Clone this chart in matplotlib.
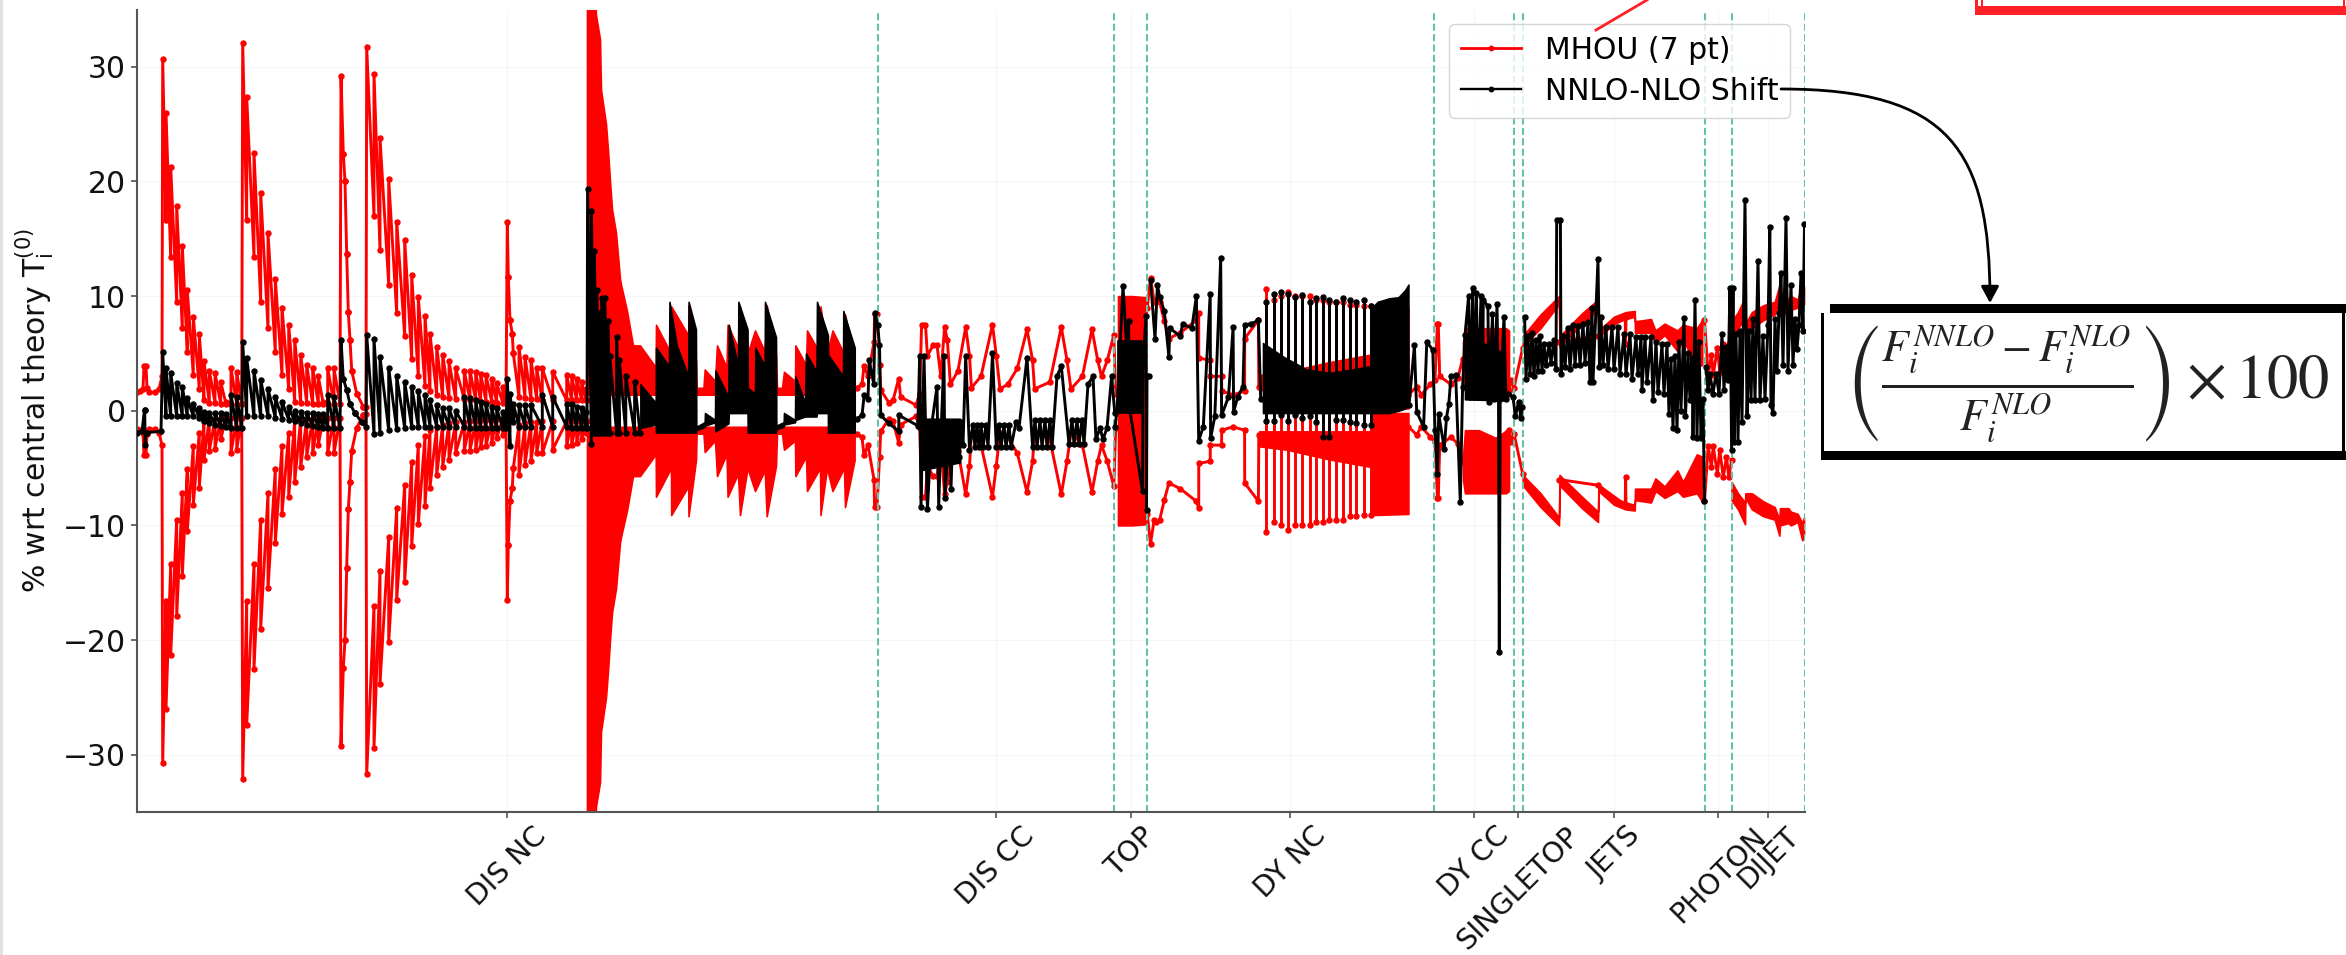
import numpy as np
import matplotlib
matplotlib.use("Agg")
import matplotlib.pyplot as plt
from matplotlib.lines import Line2D
from matplotlib.patches import Rectangle, FancyArrowPatch
from matplotlib.path import Path
from matplotlib.transforms import Affine2D

W, H = 2346, 955
RED, BLACK, TEAL = "#ff0000", "#000000", "#66c2a5"

# ---- group layout (position along the data-point axis) ----
group_edges = [0, 741, 977, 1010, 1297, 1377, 1386, 1568, 1595, 1668]
group_names = ["DIS NC", "DIS CC", "TOP", "DY NC", "DY CC", "SINGLETOP", "JETS", "PHOTON", "DIJET"]
y_ticks = [-30, -20, -10, 0, 10, 20, 30]

# ---- MHOU: symmetric +- sigma, sawtooth stretches (x has one more entry than top/end) ----
s_head_x = [0, 3, 6, 7, 9, 10, 12, 18, 22, 25]
s_head_v = [1.6, 1.7, 1.9, 3.9, 3.9, 2, 1.6, 1.6, 1.9, 3]

g1_x = [25.7, 29, 33.7, 39.7, 45.3, 50.3, 56.3, 62.3, 67, 72.3, 78, 83.7, 89, 94, 99.7, 104.7]
s1_top = [30.7, 26, 21.3, 17.9, 14.4, 10.5, 8.2, 6.7, 4.3, 3.5, 3.3, 2.5, .8, 3.7, 3.4]
s1_end = [16.6, 13.4, 9.5, 7.2, 5.1, 3.1, 1.9, .9, .7, .7, .6, .6, .6, .6, .6]

g2_x = [105.7, 109.7, 117, 123.7, 131, 138.3, 145, 151.7, 157.7, 163.7, 169.7, 175.7, 181.3, 186.3, 190.7, 197, 203]
s2_top = [32.1, 27.4, 22.5, 19, 15.5, 11.5, 9, 7.5, 6.2, 4.9, 4, 3.7, 3, .8, 3.7, 3.7]
s2_end = [16.6, 13.4, 9.5, 7.2, 5.1, 3.1, 1.9, .8, .7, .7, .6, .6, .6, .6, .6, .6]

s3_x = [204, 206.3, 208, 209.7, 211.3, 213, 214.7, 219.7, 226.3, 229]
s3_top = [29.2, 22.4, 20, 13.7, 8.6, 6.2, 3.5, 1.5, .35]
s3_end = [22.4, 20, 13.7, 8.6, 6.2, 3.5, 1.5, .35, .3]

g4_x = [229.7, 237, 243, 251.7, 259.7, 267.7, 274.7, 281.3, 288, 293, 299.7, 305.7, 312, 318.7, 327.3, 333, 338.7,
        343.7, 349, 354.7, 359.7, 365.7, 369]
s4_top = [31.7, 29.4, 23.8, 20.2, 16.5, 14.9, 11.8, 9.9, 8.3, 6.7, 5.6, 4.9, 4.3, 3.7, 3.5, 3.5, 3.4, 3.2, 3.1, 2.8, 2.4, 2.1]
s4_end = [17, 14, 11, 8.5, 6.5, 4.5, 3, 2.2, 1.7, 1.4, 1.2, 1.1, 1, 1, .9, .9, .8, .8, .8, .7, .7, .7]

s5_x = [370.3, 371.3, 373, 375.3, 376.3, 382, 388, 394, 399.7, 405.3, 415.7, 429.7, 434.7, 439.7, 444.7, 449, 450]
s5_top = [16.5, 11.7, 7.9, 6.7, 5, 5.6, 4.7, 4.4, 3.7, 3.7, 3.4, 3.1, 3, 2.8, 2.5, 1.9]
s5_end = [11.7, 7.9, 6.7, 5, 1.2, 1.1, 1, 1, .9, .9, .9, .9, .9, .9, .9, .9]

# ---- MHOU: plain polyline stretches ----
s_cc_x = [719.6, 725, 727, 731, 737, 737.6, 740, 742.6, 743.7, 752, 756, 761.7, 763.6, 779, 782.7, 784.6, 788.5, 790.4,
          796, 800, 803.8, 807.6, 810.3, 813.4, 821, 828.7, 832.5, 834.4, 844, 855.5, 859.3, 863, 870.7, 880.3, 890,
          895.6, 897.5, 912.8, 924.3, 930, 934, 945.4, 955, 960.7, 964.5, 970.3, 976.8, 978.7]
s_cc_v = [2, 2.3, 3.9, 3, 6, 8.4, 8.4, 4, 1.8, .7, .9, 2.8, 1.2, .5, 1.5, 7.5, 7.5, 4.8,
          5.7, 5.7, 3, 7.3, 6.2, 2.3, 3.5, 7.3, 4.8, 2, 3, 7.5, 4.8, 1.9, 2.3, 3.7, 7.1,
          4.4, 1.9, 2.5, 7.3, 4.4, 1.9, 3, 7.1, 4.4, 3, 4.4, 6.6, 1.5]

s_dy_x = [1010.3, 1013.5, 1017.2, 1019, 1022.7, 1027.3, 1031.9, 1043.3, 1059.4, 1061.7, 1061.8, 1073.2, 1073.3, 1084.6,
          1084.7, 1096.1, 1107.6, 1107.7, 1121.4, 1121.8]
s_dy_v = [9, 11.6, 9.5, 9.7, 9.5, 7.8, 6.3, 6.8, 7.9, 8.5, 4.6, 4.4, 3, 3, 1.7, 1.4, 1.7, 6.3, 7.9, 2.1]

s_dc_x = [1271.5, 1279.7, 1284.3, 1293.5, 1298, 1300.4, 1301.3, 1302.7, 1314, 1321, 1325.6, 1372, 1373.8, 1377, 1385.7]
s_dc_v = [1.4, 2.1, 1.4, 2.3, 2.7, 7.6, 7.6, 3, 2.3, 2.9, 4.5, 1.7, 2.7, 2, 5.5]

s_jet_x = [1422.2, 1461.2, 1488.2, 1488.6, 1489]
s_jet_v = [6, 6.5, 8.2, 5.8, 8.2]

s_ph_x = [1567.5, 1571.2, 1574.4, 1576.2, 1580.4, 1582.7, 1586.3, 1589.5, 1591.8, 1594.6]
s_ph_v = [7.9, 3.1, 4.9, 3.1, 5.5, 3.4, 5.8, 4, 5.8, 4.3]

# ---- MHOU: individual spikes in DY NC ----
s_sp_x = [1129, 1137.4, 1144.3, 1151.2, 1158, 1165, 1173, 1178.7, 1185.6, 1192.5, 1199.4, 1206.3, 1213.2, 1219, 1227, 1233.8]
s_sp_top = [10.6, 9.7, 10, 10.4, 10, 10, 10, 9.7, 9.7, 9.5, 9.5, 9.5, 9.2, 9.2, 9.1, 9.1]

# ---- MHOU: solid stretches (x, inner, outer) ----
hera_x = [450, 456, 459, 463, 464, 469, 471, 473, 475, 479, 483, 484, 490, 496, 503, 518.7, 519, 534, 534.2, 551.2, 551.5,
          559, 559.6, 566.5, 567.7, 578, 580, 589.5, 590.6, 601, 603, 610.5, 618, 627.7, 629.7, 639, 640, 645, 647, 658,
          658.4, 669, 670, 683, 683.5, 690, 695.5, 707, 708, 717.6]
hera_out = [40, 40, 34.5, 32.4, 28, 25, 22.7, 20, 17.6, 15.5, 11.5, 11, 8.7, 5.7, 5.7, 3.8, 7.5, 5, 9.1, 6.6, 9.2,
            4.3, 2, 2, 3.6, 2.6, 5.7, 3.8, 7.5, 5.5, 9.1, 5, 7, 5.2, 9.2, 4.8, 2, 2, 3.4, 2.6,
            5.7, 4, 7, 5, 9.1, 5, 7, 5, 8.4, 4.3]
top_x = [981, 995, 1009.5]
top_in = [0, 0, 0]
top_out = [10, 10, 9.9]
nc_x = [1122, 1150, 1190, 1233.8, 1234, 1271.4]
nc_in = [1.8, 1.8, 1.8, 1.8, .2, .2]
nc_out = [3.1, 3.4, 4.2, 4.9, 9.1, 9]
dc_x = [1326, 1328, 1342, 1362, 1369, 1372]
dc_in = [4, 1.7, 1.7, 2.5, 1.7, 1.7]
dc_out = [6, 7.2, 7.2, 7.2, 7.2, 7]
jets_x = [1385.7, 1403.6, 1422, 1422.5, 1445, 1461, 1461.5, 1477, 1488.5, 1497.7, 1498, 1514, 1518.4, 1527.6, 1540.4, 1546, 1559.8, 1565.2]
jets_in = [5.6, 7.2, 9.3, 5.6, 7.5, 8.8, 6.4, 7.6, 8, 8.2, 6.8, 6.8, 5.9, 6.6, 5.2, 6.2, 3.8, 4]
jets_out = [6.5, 8.4, 10, 6.5, 8.5, 9.7, 7, 8.2, 8.6, 8.7, 7.8, 8, 7, 7.6, 7, 7.5, 7.2, 7.9]
dj_x = [1594.6, 1601, 1608, 1608.4, 1614.8, 1626.3, 1637.7, 1642.3, 1643, 1651.5, 1653.8, 1660.7, 1665.2, 1667]
dj_in = [6.2, 7.2, 8, 7.2, 7.2, 7.9, 8.4, 9.5, 8.5, 8.5, 8.8, 9, 9.8, 9.3]
dj_out = [7.8, 8.6, 9.9, 7.6, 8.6, 9.2, 9.5, 10.9, 10, 9.8, 10, 9.7, 11.3, 10.8]

# ---- NNLO-NLO shift: sawtooth stretches ----
b_head_x = [0, 5, 7.5, 7.7, 8.2, 8.6, 10, 24]
b_head_v = [-1.9, -1.8, .1, .1, -3, -1.9, -1.9, -1.8]
b1_top = [5.1, 3.7, 3.3, 2.4, 2.1, 1.1, .6, .2, -.1, -.2, -.2, -.2, -.3, 1.4, 1.2]
b1_end = [-.5, -.5, -.5, -.5, -.5, -.5, -.6, -.9, -1.1, -1.2, -1.3, -1.4, -1.5, -1.5, -1.5]
b2_top = [6, 4.6, 3.5, 2.7, 1.9, 1.2, .8, .3, 0, -.1, -.2, -.2, -.3, -.3, 1.4, 1.2]
b2_end = [-.5, -.5, -.5, -.5, -.6, -.7, -.8, -.9, -1.1, -1.2, -1.3, -1.4, -1.5, -1.5, -1.5, -1.5]
b3_x = [204, 206.3, 209.7, 213, 218, 224.7, 229]
b3_top = [6.2, 2.8, 1.8, .6, -.2, -1]
b3_end = [2.8, 1.8, .6, -.2, -1, -1.4]
b4_top = [6.6, 6.3, 4.7, 3.7, 3, 2.5, 2.1, 1.7, 1.4, .9, .5, .2, .2, 0, 1.2, 1.1, .9, .8, .6, .3, .2, -.1]
b4_end = [-2, -1.9, -1.7, -1.6, -1.5, -1.4, -1.4, -1.4, -1.4, -1.4, -1.4, -1.4, -1.4, -1.4, -1.5, -1.5, -1.5, -1.5, -1.5, -1.5, -1.5, -1.5]
b5_x = [370.3, 373, 376.3, 382, 388, 394, 405.3, 415.7, 429.7, 434.7, 439.7, 444.7, 449, 450]
b5_top = [2.8, 1.5, .6, .5, .5, .5, 1.4, 1.2, .6, .6, .3, .2, -.1]
b5_end = [-3.1, -1, -1.4, -1.4, -1.4, -1.4, -1.4, -1.4, -1.5, -1.5, -1.5, -1.5, -1.5]
b6_x = [450.6, 454.4, 457.4, 459.7, 462.4, 465, 467.8, 470.8, 472.8, 479.6, 482.3, 488.8, 497.6, 503]
b6_top = [19.3, 17.4, 13.9, 10.5, 8.5, 9.8, 9.8, 7.8, 4.8, 6.4, 4.4, 3, 2.5]
b6_end = [-2.9, -1.9, -1.9, -1.9, -1.9, -1.9, -1.9, -1.9, -1.9, -1.9, -1.9, -1.9, -1.9]

# ---- NNLO-NLO shift: polyline stretches ----
b_cc_x = [719.6, 725, 727.2, 731, 732.2, 736.8, 738, 740.6, 742.5, 743.7, 752, 761.7, 761.9, 780.8,
          782.7, 784, 787, 789, 790.4, 795, 800, 801.7, 804, 807, 808, 812, 814, 816, 818, 820, 822, 824, 826,
          828.7, 832.5, 836, 838, 840, 842, 844, 846, 849, 851, 855.5, 859.3, 862, 864, 867, 869, 872, 874, 879, 882,
          890, 895.6, 898, 900, 903, 905, 908, 910, 913, 915, 920, 924.3, 932, 935, 937, 940, 942, 945, 947,
          951, 956, 959, 963, 966, 970, 974.6, 977.8]
b_cc_v = [-.7, -.4, 1.4, 1, 4.4, 2.3, 8.5, 7.5, 5.7, -.4, -1.1, -1.8, -.4, -1.3,
          4.8, -8.4, 4.8, -3, -8.6, -1, 2.1, -8.4, -2, 4.8, -7.6, -1, -6.8, -1, -4, -1.5, -4, -1, -3,
          4.8, -3.4, -1.2, -3.2, -1.2, -3.2, -1.2, -3.2, -1.2, -3.2, 5, -3.2, -1.2, -3.2, -1.2, -3.2, -1.2, -3.2, -1, -1.5,
          4.6, -3.2, -.8, -3.2, -.8, -3.2, -.8, -3.2, -.8, -3.2, 3, 3.9, -2.9, -.8, -2.9, -.8, -2.9, -.8, -2.9,
          2.3, 3, -2.5, -1.5, -2.5, -1.5, 3, -.2]

b_top_x = [978, 980, 986, 990, 991.5, 993, 1005.5, 1006, 1009, 1009.5, 1010, 1012]
b_top_v = [-1.4, 0, 10.9, 5, 7.8, 0, -7, 4, 8.3, -8.7, 3, 3]

b_dy_x = [1013.5, 1018, 1020.4, 1022.7, 1027.3, 1031.9, 1032.8, 1043.3, 1045.6, 1054.8, 1059.4, 1061.7, 1066.3, 1073.2,
          1073.6, 1077.8, 1083.7, 1084.6, 1091.5, 1096.1, 1096.6, 1100.7, 1106, 1107.6, 1114.5, 1121.4, 1123.7]
b_dy_v = [11.4, 6.3, 11, 9.9, 8.7, 4.7, 7.2, 6.5, 7.6, 7.2, 10, -2.6, -1.4, 10.2,
          -2.4, -.5, 13.3, -.4, 1.2, 7.3, -.1, 1.2, 2.1, 7.5, 7.6, 7.9, 1]

b_dc_x = [1272, 1277.4, 1279.7, 1286.6, 1289.8, 1295.8, 1298, 1300.4, 1301.7, 1307.3, 1309.5, 1311.8, 1314, 1318.7,
          1323.3, 1325.6, 1328, 1331.6, 1333, 1335.7, 1337, 1339.4, 1341, 1344, 1345.5, 1346.3, 1350.9, 1352, 1355.5,
          1357, 1360, 1361.5, 1362.3, 1363.2, 1367, 1369, 1371.5, 1376, 1378.4, 1381.6, 1383.9, 1385]
b_dc_v = [.5, 5.7, -.1, -1.4, 6, 5.3, -1.7, -5.5, -.3, -3.3, -.6, .6, 3, 3.1,
          -8, 2.1, 6.6, 10, 1.2, 10.7, 1.2, 10.3, 1.2, 10, 1.2, 9.7, 9.1, .8, 8.4,
          1, 9.3, 1, -21, 1, 8.2, 1, 1.5, 1.2, -.5, .8, -.6, .3]

b_jets_x = [1387.6, 1389, 1391, 1393, 1395, 1397, 1399, 1401, 1403, 1405, 1407, 1409, 1412, 1414, 1417, 1419, 1419.7, 1423.4,
            1424, 1426, 1428, 1431, 1433, 1436, 1438, 1441, 1443, 1446, 1448, 1451, 1453, 1455, 1456, 1461, 1462.5, 1464,
            1466, 1469, 1471, 1475, 1477, 1481, 1483, 1487, 1489, 1493, 1495, 1499, 1501, 1504, 1505, 1508, 1510, 1514,
            1516, 1519, 1521, 1525, 1527, 1530, 1532, 1534, 1536, 1538, 1540, 1542, 1544, 1547, 1548.5, 1551, 1553, 1555,
            1556, 1558, 1560, 1562, 1564, 1566, 1567.5]
b_jets_v = [8.2, 2.8, 6.5, 3.2, 6.8, 3, 6.2, 3.5, 6.5, 3.5, 5.8, 4, 5.8, 4.2, 6.2, 3.6, 16.6, 16.6,
            3.2, 6.5, 3.8, 7.2, 3.6, 7.5, 4, 7.4, 4, 7.6, 4.2, 7.7, 2.5, 9, 2.5, 13.2, 3.8, 8.2,
            4, 7.3, 3.6, 7.3, 3.6, 7.3, 3.2, 6.7, 3.2, 6.7, 2.8, 6.4, 3.2, 6.4, 1.8, 6.4, 2.5, 6.4,
            .9, 6, 1.6, 5.8, 1.5, 5.8, -.3, 4.5, -1.5, 4.8, -1.7, 6, 0, 8.1, -.5, 5, .9, 4.6,
            -2.3, 9.7, -2.4, 6, -2.4, 1, -7.9]

b_end_x = [1569, 1571, 1573, 1576, 1579, 1582, 1585, 1587, 1589, 1591, 1593, 1594.6, 1596, 1597, 1599, 1601, 1603, 1605,
           1608, 1610, 1612, 1614, 1616, 1618, 1621, 1623, 1626, 1628, 1631, 1632.8, 1634, 1636, 1638, 1640, 1642, 1644,
           1646, 1649, 1651, 1654, 1656, 1658, 1660, 1662, 1664, 1666, 1667.5]
b_end_v = [3.8, 1.8, 3.2, 1.5, 3.2, 1.5, 6.7, 1.8, 5.6, 2.7, 10.7, -3.4, 10.7, -2.7, 6.7, -2.7, 7, -1,
           18.4, -.5, 7, .9, 8, .9, 13.1, .9, 6.5, 1, 7.5, 16, .5, -.2, 8, 3.5, 8.5, 12,
           4, 16.8, 3.5, 11, 4, 8, 5.4, 7.5, 12, 7, 16.3]

# ---- NNLO-NLO shift: individual spikes in DY NC ----
b_sp_top = [9.5, 10.2, 10.4, 10.2, 9.9, 10.1, 9.5, 9.8, 9.9, 9.7, 9.5, 9.8, 9.7, 9.5, 9.7, 9.1]
b_sp_low = [-.9, -.9, -.4, -.9, -.4, -.6, -.5, -1, -2.3, -2.3, -.8, -.8, -1, -1.1, -1.2, -1.2]

# ---- NNLO-NLO shift: solid stretches (x, low, high) ----
bs_x = [503.4, 518.7, 519, 532, 532.5, 539.7, 551.2, 551.6, 558.9, 559.3, 567.7, 568, 578, 578.4, 591.4, 591.8, 601, 601.4,
        610.5, 610.8, 618, 618.3, 627.7, 628, 639, 639.3, 646.7, 647, 658, 658.4, 668, 669, 679.5, 680, 690.9, 691, 706, 706.3, 717.7]
bs_lo = [-1.5, -1.2, -1.9, -1.9, -1.9, -1.9, -1.9, -1.9, -1.9, -1.7, -1.4, -1.3, -1, -1.8, -1.1, -.2, -.2, -.2,
         -.2, -1.9, -1.9, -1.9, -1.9, -1.9, -1.9, -1.6, -1.4, -1.2, -1, -.8, -.5, -.5, -.5, -.2, -.2, -1.9, -1.9, -1.9, -1.9]
bs_hi = [2.3, .7, 5.5, 3.9, 9.5, 5.7, 3, 9.5, 7.1, -1.4, -1, -.2, -.8, 3.5, 1.2, 7.5, 3.9, 9.5,
         7.1, 2, 1.5, 5.5, 3.9, 9.5, 6.4, -1.3, -1, -.2, -.8, 3, .7, 5, 3.4, 9.5, 6.6, 4.9, 3, 8.7, 5.5]
bc_x = [783, 823]
bc_lo = [-5.2, -4.5]
bc_hi = [-.7, -.7]
bt_x = [981, 1005]
bt_lo = [-.2, -.2]
bt_hi = [6.1, 6.1]
bn_x = [1126, 1146.6, 1169.6, 1192.5, 1215.5, 1233.8, 1234, 1240.7, 1252, 1261.4, 1268, 1271.4]
bn_lo = [-.2, -.2, -.2, -.2, -.2, -.2, -.2, -.2, -.2, 0, .2, .4]
bn_hi = [5.9, 4.7, 3.6, 3.3, 3.6, 3.9, 8.9, 9.5, 9.8, 9.9, 10.5, 11]
bd_x = [1328, 1367]
bd_lo = [1, .9]
bd_hi = [6.7, 5]


def teeth(x, top, end):
    """Saw-tooth: each tooth starts at top[k] and falls to end[k] at the next x."""
    xs, ys = [], []
    for k in range(len(top)):
        xs += [x[k], x[k + 1]]
        ys += [top[k], end[k]]
    return xs, ys


# assemble the two series
s_x, s_v = list(s_head_x), list(s_head_v)
for a, b, c in [(g1_x, s1_top, s1_end), (g2_x, s2_top, s2_end), (s3_x, s3_top, s3_end),
                (g4_x, s4_top, s4_end), (s5_x, s5_top, s5_end)]:
    p, q = teeth(a, b, c)
    s_x += p
    s_v += q
s_x, s_v = np.array(s_x), np.array(s_v)
s_segments = [(s_x, s_v), (s_cc_x, s_cc_v), (s_dy_x, s_dy_v), (s_dc_x, s_dc_v), (s_jet_x, s_jet_v), (s_ph_x, s_ph_v)]

b_x, b_v = list(b_head_x), list(b_head_v)
for a, c, d in [(g1_x, b1_top, b1_end), (g2_x, b2_top, b2_end), (b3_x, b3_top, b3_end),
                (g4_x, b4_top, b4_end), (b5_x, b5_top, b5_end), (b6_x, b6_top, b6_end)]:
    p, q = teeth(a, c, d)
    b_x += p
    b_v += q
b_segments = [(b_x, b_v), (b_cc_x, b_cc_v), (b_top_x, b_top_v), (b_dy_x, b_dy_v),
              (b_dc_x, b_dc_v), (b_jets_x, b_jets_v), (b_end_x, b_end_v)]

# ---- figure ----
fig = plt.figure(figsize=(W / 100, H / 100), dpi=100, facecolor="white")
L, R, T, B = 137, 1805, 9.5, 812
ax = fig.add_axes([L / W, 1 - B / H, (R - L) / W, (B - T) / H])
LW, MS = 2.1, 3.6
FS = 21.5

# MHOU
red_kw = dict(color=RED, lw=LW, marker="o", ms=MS, mec=RED, zorder=2)
for sgn in (1, -1):
    for sx, sv in s_segments:
        ax.plot(sx, sgn * np.array(sv), **red_kw)
    ax.vlines(s_sp_x, sgn * 0.3 * np.ones(len(s_sp_x)), sgn * np.array(s_sp_top), color=RED, lw=LW, zorder=2)
    ax.plot(s_sp_x, sgn * np.array(s_sp_top), ls="none", marker="o", ms=MS, color=RED, zorder=2)
    for bx, bi, bo in [(hera_x, [1.4] * len(hera_x), hera_out), (top_x, top_in, top_out), (nc_x, nc_in, nc_out),
                       (dc_x, dc_in, dc_out), (jets_x, jets_in, jets_out), (dj_x, dj_in, dj_out)]:
        ax.fill_between(bx, sgn * np.array(bi), sgn * np.array(bo), color=RED, lw=1.2, zorder=2)
red_handle = Line2D([], [], color=RED, lw=2.0, marker="o", ms=3.2)

# group separators
ax.vlines(group_edges[1:], -35, 35, color=TEAL, lw=1.5, linestyles=(0, (3.4, 1.6)), zorder=2.5)

# shift
blk_kw = dict(color=BLACK, lw=LW, marker="o", ms=MS, mec=BLACK, zorder=3)
for sx, sv in b_segments:
    ax.plot(sx, sv, **blk_kw)
ax.vlines(s_sp_x, b_sp_low, b_sp_top, color=BLACK, lw=LW, zorder=3)
ax.plot(s_sp_x, b_sp_top, ls="none", marker="o", ms=MS, color=BLACK, zorder=3)
ax.plot(s_sp_x, b_sp_low, ls="none", marker="o", ms=MS, color=BLACK, zorder=3)
for bx, bl, bh in [(bs_x, bs_lo, bs_hi), (bc_x, bc_lo, bc_hi), (bt_x, bt_lo, bt_hi), (bn_x, bn_lo, bn_hi), (bd_x, bd_lo, bd_hi)]:
    ax.fill_between(bx, bl, bh, color=BLACK, lw=1.2, zorder=3)
blk_handle = Line2D([], [], color=BLACK, lw=1.7, marker="o", ms=3.2)

# axes
ax.set_xlim(group_edges[0], group_edges[-1])
ax.set_ylim(-35, 35)
mids = [(group_edges[i] + group_edges[i + 1]) / 2 for i in range(len(group_names))]
ax.set_xticks(mids)
ax.set_xticklabels(group_names, rotation=45, ha="center", fontsize=20.5, color="#111111")
ax.set_yticks(y_ticks)
ax.set_yticklabels([str(v).replace("-", "\u2212") for v in y_ticks], fontsize=FS, color="#111111")
ax.set_ylabel(r"% wrt central theory T$_\mathrm{i}^{(0)}$", fontsize=FS, labelpad=5, color="#111111")
ax.grid(True, alpha=0.05, color="#555555")
ax.set_axisbelow(True)
for s in ("top", "right"):
    ax.spines[s].set_visible(False)
for s in ("left", "bottom"):
    ax.spines[s].set_color("#555555")
    ax.spines[s].set_linewidth(1.5)
ax.tick_params(colors="#444444", length=4.5, width=1.1, labelcolor="#111111")
ax.tick_params(axis="x", pad=2.5)

ax.legend([red_handle, blk_handle], ["MHOU (7 pt)", "NNLO-NLO Shift"], fontsize=FS, framealpha=0.8,
          loc="upper left", bbox_to_anchor=(1449 / W, 1 - 24 / H), bbox_transform=fig.transFigure,
          borderaxespad=0, handlelength=2.0, handletextpad=0.8, borderpad=0.4, labelspacing=0.4).set_zorder(5)

# overlays drawn on the page, measured in page pixels
px = Affine2D().scale(1, -1).translate(0, H)


def page_rect(x, y, w, h, color):
    fig.add_artist(Rectangle((x, y), w, h, transform=px, fc=color, ec="none", zorder=6))


page_rect(0, 0, 2.5, H, "#e2e2e2")

# red sketch box, cut by the top of the page
RB = "#ff1f24"
page_rect(1975, 6, 371, 9, RB)
page_rect(1975, 0, 2.5, 15, RB)
page_rect(1981, 0, 1.5, 9, RB)
page_rect(2343, 0, 1.5, 9, RB)
fig.add_artist(Line2D([1596, 1647], [30, 0], transform=px, color=RB, lw=2.0, zorder=7))

# black sketch box with the formula
KB = "#000000"
page_rect(1830, 304, 516, 9, KB)
page_rect(1821, 313, 3, 147, KB)
page_rect(1821, 451, 525, 9, KB)
page_rect(2342, 313, 3, 147, KB)
fig.text(2087 / W, 1 - 384 / H, r"$\left(\frac{F_i^{NNLO}-F_i^{NLO}}{F_i^{NLO}}\right)\times 100$",
         math_fontfamily="stix", fontsize=45, color="#222222", ha="center", va="center", zorder=7)

curve = Path([(1781, 89), (1950, 89), (1990, 150), (1990, 303)],
             [Path.MOVETO, Path.CURVE4, Path.CURVE4, Path.CURVE4])
fig.add_artist(FancyArrowPatch(path=curve, transform=px, arrowstyle="-|>,head_length=10,head_width=5.4",
                               mutation_scale=1, color="black", lw=2.0, zorder=8, shrinkA=0, shrinkB=0))

fig.savefig("out.png", dpi=100, facecolor="white")
